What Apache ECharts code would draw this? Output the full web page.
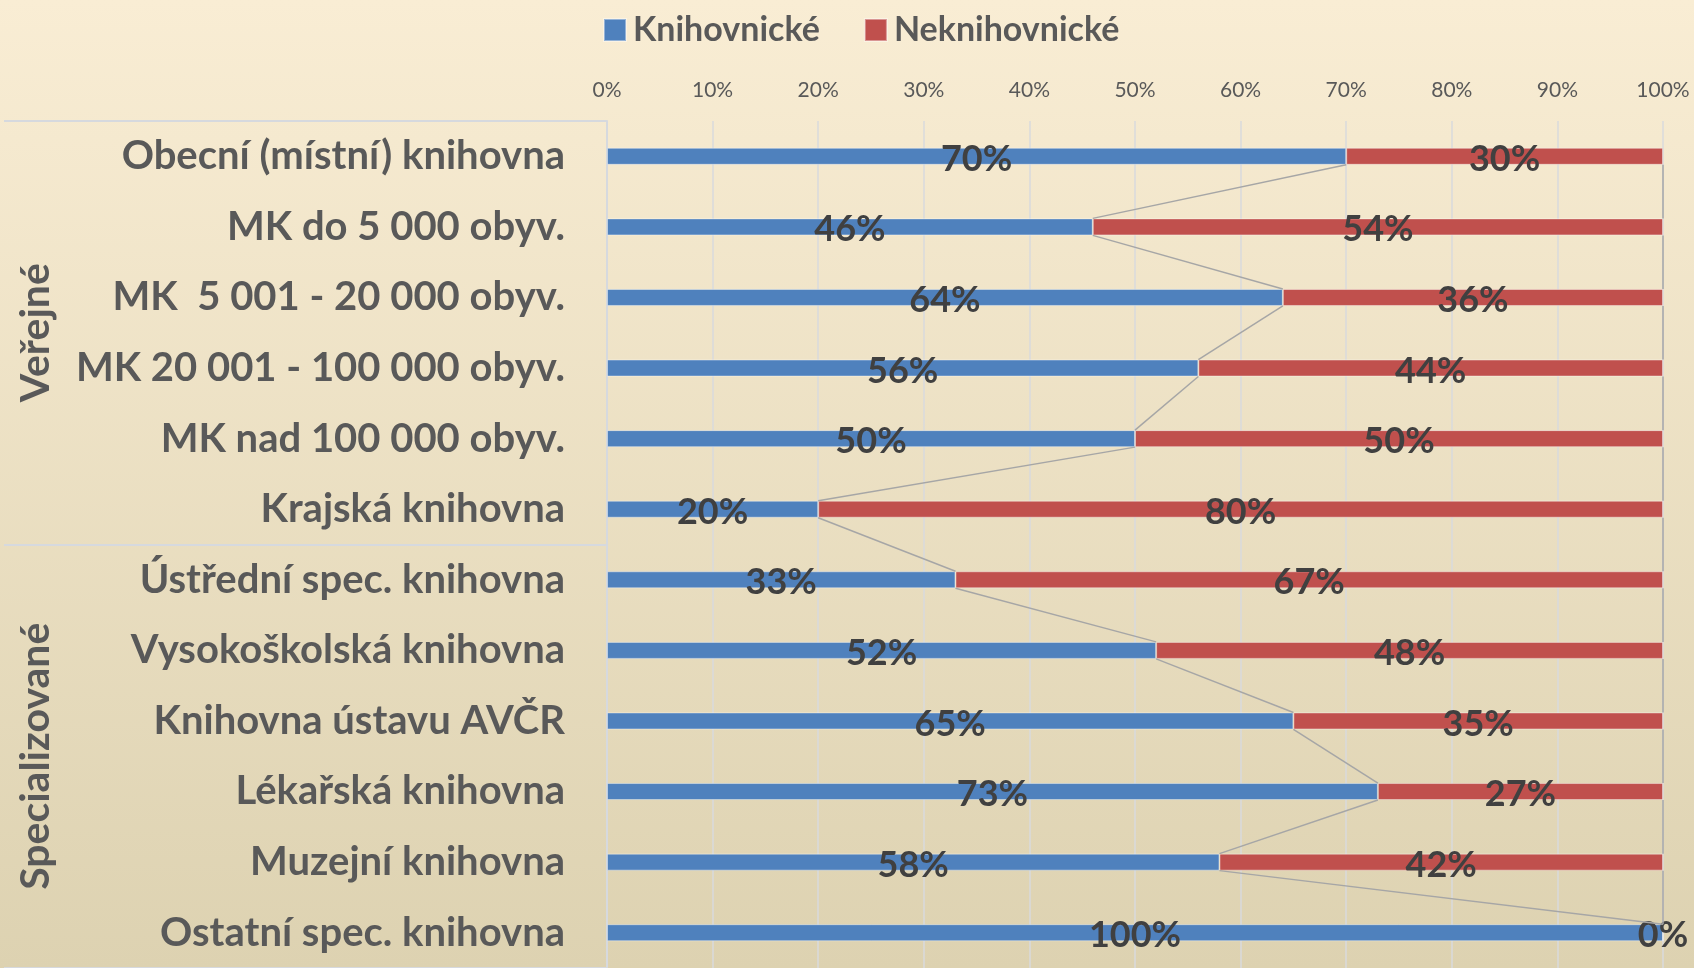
<!DOCTYPE html>
<html>
<head>
<meta charset="utf-8">
<script src="https://cdn.jsdelivr.net/npm/echarts@6/dist/echarts.min.js"></script>
<style>
  html, body { margin: 0; padding: 0; }
  #chart { width: 1694px; height: 968px; }
</style>
</head>
<body>
<div id="chart"></div>
<script>
// kategorie knihoven (shora dolů)
const categories = [
  'Obecní (místní) knihovna',
  'MK do 5 000 obyv.',
  'MK  5 001 - 20 000 obyv.',
  'MK 20 001 - 100 000 obyv.',
  'MK nad 100 000 obyv.',
  'Krajská knihovna',
  'Ústřední spec. knihovna',
  'Vysokoškolská knihovna',
  'Knihovna ústavu AVČR',
  'Lékařská knihovna',
  'Muzejní knihovna',
  'Ostatní spec. knihovna'
]
// skupiny (každá po 6 kategoriích)
const groups = ['Veřejné', 'Specializované']
const knihovnicke = [70, 46, 64, 56, 50, 20, 33, 52, 65, 73, 58, 100]
const neknihovnicke = [30, 54, 36, 44, 50, 80, 67, 48, 35, 27, 42, 0]
const ticks = [0, 10, 20, 30, 40, 50, 60, 70, 80, 90, 100]

const FONT = 'Lato, "Open Sans", sans-serif'
const BAR = 17

const chart = echarts.init(document.getElementById('chart'))

// spojovací čáry mezi sloupci (jako "series lines" v Excelu)
function seriesLines(cumul) {
  const data = []
  for (let i = 0; i < cumul.length - 1; i++) data.push([cumul[i], i, cumul[i + 1], i + 1])
  return {
    type: 'custom',
    z: 3,
    silent: true,
    encode: { x: [0, 2], y: [1, 3] },
    renderItem: (params, api) => {
      const a = api.coord([api.value(0), categories[api.value(1)]])
      const b = api.coord([api.value(2), categories[api.value(3)]])
      return {
        type: 'line',
        shape: { x1: a[0], y1: a[1] + BAR / 2, x2: b[0], y2: b[1] - BAR / 2 },
        style: { stroke: '#a6a6a6', lineWidth: 1.5 }
      }
    },
    data: data
  }
}

const labelStyle = {
  show: true,
  position: 'inside',
  formatter: '{c}%',
  fontFamily: FONT,
  fontWeight: 'bold',
  fontSize: 36,
  color: '#404040',
  offset: [0, 3]
}

const option = {
  backgroundColor: new echarts.graphic.LinearGradient(0, 0, 0, 1, [
    { offset: 0, color: '#f9edd4' },
    { offset: 1, color: '#ddd2b1' }
  ]),
  animation: false,
  legend: {
    top: 8,
    left: 598,
    itemWidth: 22,
    itemHeight: 22,
    itemGap: 44,
    icon: 'rect',
    textStyle: { fontFamily: FONT, fontWeight: 'bold', fontSize: 34, color: '#595959', padding: [0, 0, 0, 2] },
    data: ['Knihovnické', 'Neknihovnické']
  },
  grid: { left: 607, right: 31, top: 121, height: 851 },
  xAxis: {
    type: 'value',
    position: 'top',
    min: 0,
    max: 100,
    interval: 10,
    axisLine: { show: false },
    axisTick: { show: false },
    axisLabel: {
      formatter: '{value}%',
      fontFamily: FONT,
      fontSize: 21,
      color: '#595959',
      margin: 20
    },
    splitLine: { lineStyle: { color: '#d9dadc', width: 1.5 } }
  },
  yAxis: [
    {
      type: 'category',
      inverse: true,
      data: categories,
      axisLine: { lineStyle: { color: '#d6d9de', width: 2 } },
      axisTick: { show: false },
      axisLabel: {
        fontFamily: FONT,
        fontWeight: 'bold',
        fontSize: 40,
        color: '#595959',
        margin: 42
      }
    },
    {
      // skupinová osa – čáry tabulky vlevo a svislé popisky
      type: 'category',
      inverse: true,
      position: 'left',
      data: groups,
      axisLine: { show: false },
      axisTick: { show: true, length: 603, lineStyle: { color: '#d6d9de', width: 2 } },
      axisLabel: {
        rotate: 90,
        fontFamily: FONT,
        fontWeight: 'bold',
        fontSize: 41,
        color: '#595959',
        margin: 551
      }
    }
  ],
  series: [
    {
      name: 'Knihovnické',
      type: 'bar',
      stack: 'total',
      barWidth: BAR,
      itemStyle: { color: '#4f81bd', borderColor: 'rgba(255,255,255,0.4)', borderWidth: 1 },
      label: labelStyle,
      z: 2,
      data: knihovnicke
    },
    {
      name: 'Neknihovnické',
      type: 'bar',
      stack: 'total',
      barWidth: BAR,
      itemStyle: { color: '#c0504d', borderColor: 'rgba(255,255,255,0.4)', borderWidth: 1 },
      label: labelStyle,
      z: 2,
      data: neknihovnicke
    },
    seriesLines(knihovnicke),
    seriesLines(knihovnicke.map((v, i) => v + neknihovnicke[i]))
  ]
}

chart.setOption(option)
</script>
</body>
</html>
